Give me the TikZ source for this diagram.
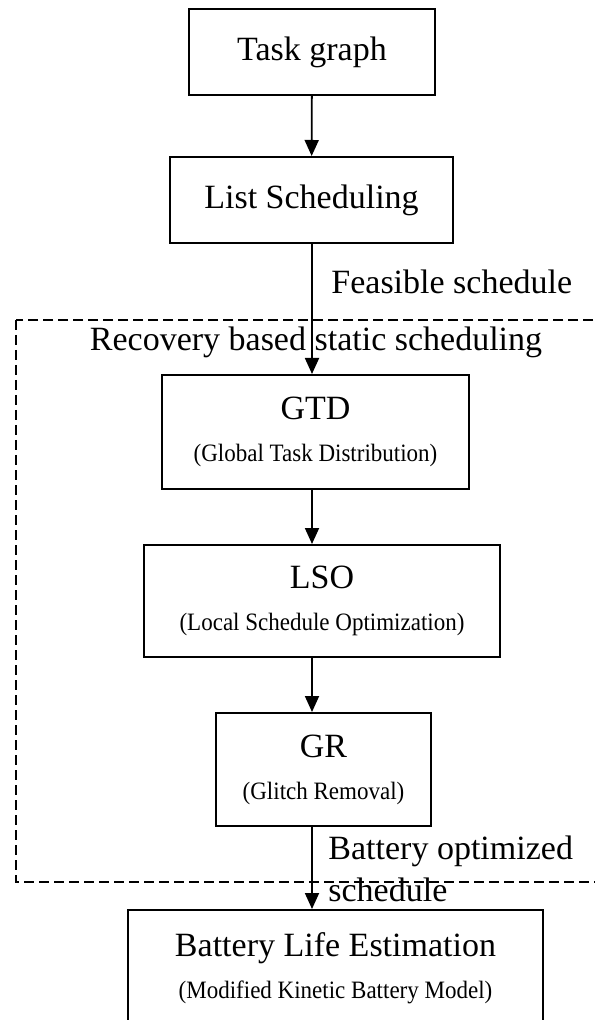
\documentclass[tikz,border=0pt]{standalone}
\usepackage{fontspec}
\setmainfont{Liberation Serif}
\newfontfamily\subfont{Liberation Serif}[FakeStretch=0.92]
\usetikzlibrary{arrows.meta}
\newcommand{\subline}[1]{{\subfont\fontsize{12.5}{15}\selectfont #1}}

\begin{document}
\begin{tikzpicture}[x=0.5pt, y=-0.5pt,
    box/.style={draw, line width=1pt, inner sep=0pt, align=center, font=\fontsize{17}{20}\selectfont},
    lbl/.style={inner sep=0pt, font=\fontsize{17}{21}\selectfont},
    arr/.style={line width=0.9pt, -{Triangle[width=7pt, length=8pt]}}]
  \useasboundingbox (0,0) rectangle (594,1020);

  % \node [box] (task) at (0,0) {Task graph};
  \node [box, minimum width=123pt, minimum height=43pt](task) at (312,52) {Task graph};
  \node [box, minimum width=141.5pt, minimum height=43pt](list) at (311.5,200) {List Scheduling};
  \node [box, minimum width=153.5pt, minimum height=57pt](gtd) at (315.5,432) {GTD\\[1pt]\subline{(Global Task Distribution)}};
  \node [box, minimum width=178pt, minimum height=56pt](lso) at (322,601) {LSO\\[1pt]\subline{(Local Schedule Optimization)}};
  \node [box, minimum width=107.5pt, minimum height=56.5pt](gr) at (323.5,769.5) {GR\\[1pt]\subline{(Glitch Removal)}};
  \node [box, minimum width=207.5pt, minimum height=58pt](ble) at (335.5,968) {Battery Life Estimation\\[1pt]\subline{(Modified Kinetic Battery Model)}};

  % dashed frame, open to the right
  \draw [line width=1pt, dash pattern=on 5pt off 2.5pt] (16,320) rectangle (620,882);

  \node [lbl](rbss) at (316,342) {Recovery based static scheduling};
  \node [lbl, anchor=west](feas) at (331,282) {Feasible schedule};
  \node [lbl, anchor=west, align=left](bopt) at (328,869) {Battery optimized\\schedule};

  % flow, all arrows on one vertical line
  \coordinate (axis) at (312,0);
  \draw [arr] (task) -- (list);
  \draw [arr] (list.south -| axis) -- (gtd.north -| axis);
  \draw [arr] (gtd.south -| axis) -- (lso.north -| axis);
  \draw [arr] (lso.south -| axis) -- (gr.north -| axis);
  \draw [arr] (gr.south -| axis) -- (ble.north -| axis);
\end{tikzpicture}
\end{document}
